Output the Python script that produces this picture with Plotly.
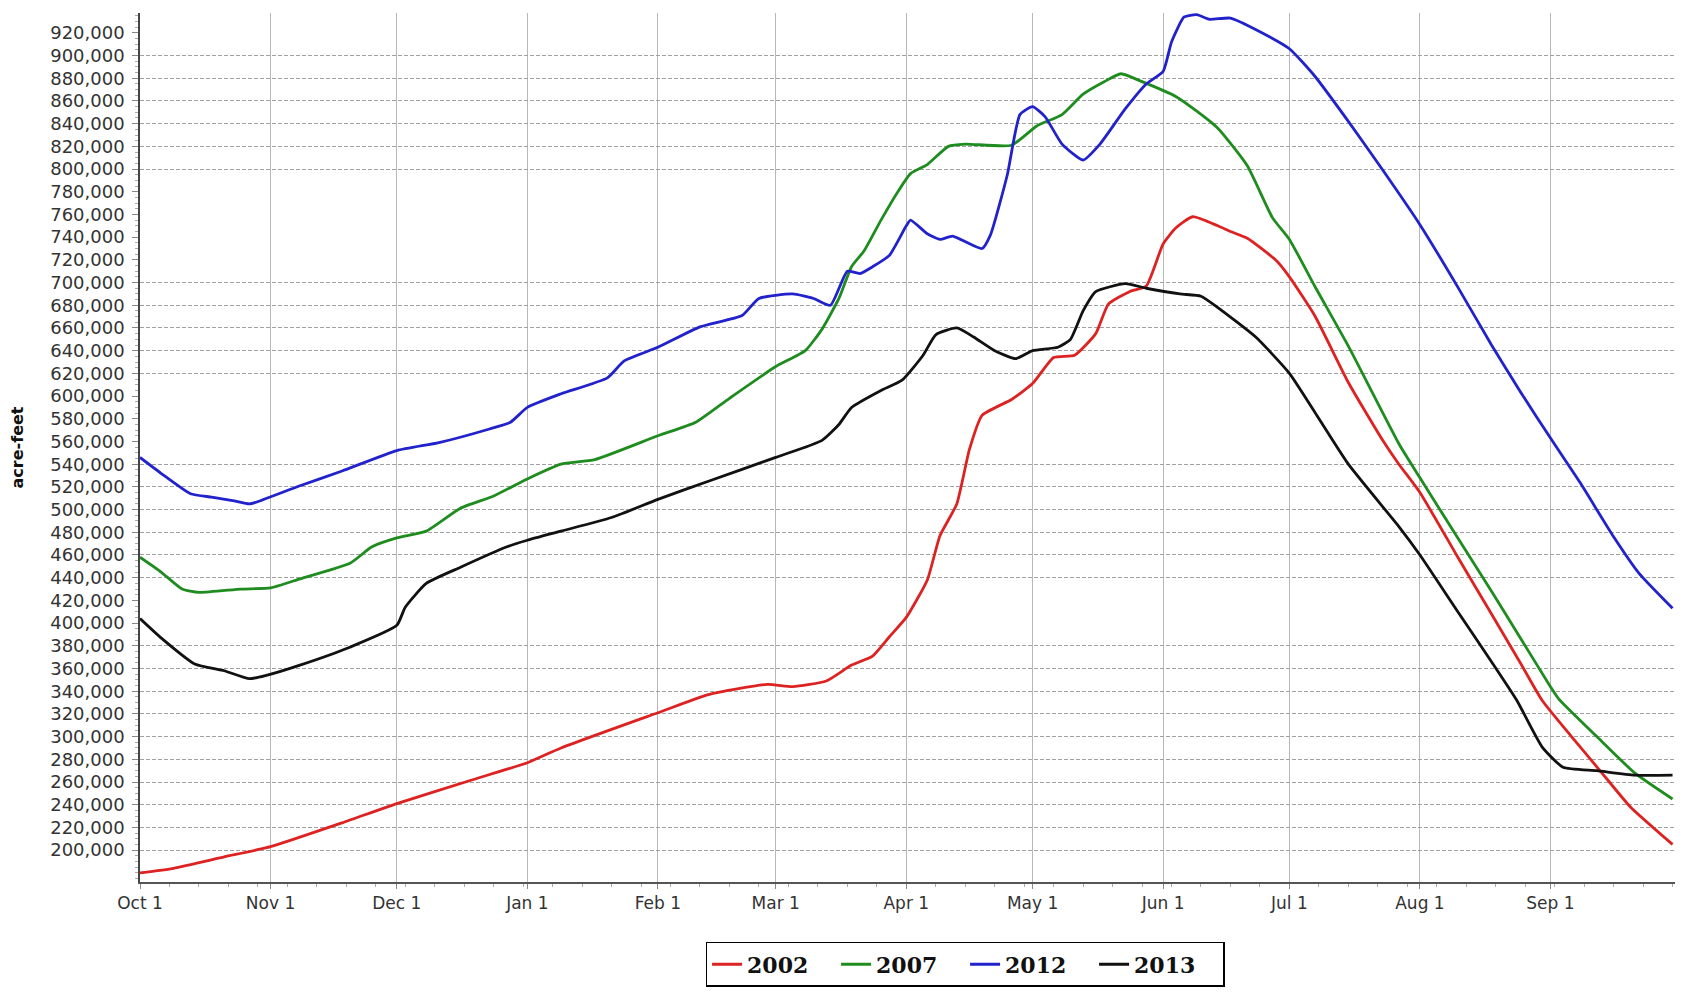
import plotly.graph_objects as go

# ---- data (water year Oct 2012 - Sep 2013 used as a generic year axis) ----
dates_2002 = ["2012-10-01","2012-10-09","2012-10-21","2012-11-01","2012-11-18","2012-12-01","2012-12-19",
              "2013-01-01","2013-01-09","2013-02-01","2013-02-13","2013-02-27","2013-03-05","2013-03-13",
              "2013-03-19","2013-03-24","2013-03-28","2013-04-01","2013-04-06","2013-04-09","2013-04-13",
              "2013-04-16","2013-04-19","2013-04-26","2013-05-01","2013-05-06","2013-05-11","2013-05-16",
              "2013-05-19","2013-05-24","2013-05-28","2013-06-01","2013-06-04","2013-06-08","2013-06-14",
              "2013-06-17","2013-06-21","2013-06-28","2013-07-01","2013-07-07","2013-07-15","2013-07-23",
              "2013-07-27","2013-08-01","2013-08-10","2013-08-18","2013-08-25","2013-08-30","2013-09-06",
              "2013-09-13","2013-09-20","2013-09-30"]
acft_2002 = [180000,184000,194000,203000,224000,241000,262000,
             277000,290000,321000,337000,346000,344000,349000,
             363000,371000,388000,405000,438000,477000,505000,
             553000,583000,597000,611000,634000,636000,655000,
             681000,692000,697000,734000,748000,758000,750000,
             745000,739000,719000,705000,671000,612000,562000,
             540000,515000,458000,408000,364000,332000,300000,
             269000,238000,205000]

dates_2007 = ["2012-10-01","2012-10-06","2012-10-11","2012-10-15","2012-10-25","2012-11-01","2012-11-08",
              "2012-11-20","2012-11-25","2012-12-01","2012-12-08","2012-12-16","2012-12-24","2013-01-01",
              "2013-01-09","2013-01-17","2013-02-01","2013-02-10","2013-02-18","2013-03-01","2013-03-08",
              "2013-03-12","2013-03-16","2013-03-19","2013-03-22","2013-03-26","2013-03-30","2013-04-02",
              "2013-04-06","2013-04-11","2013-04-15","2013-04-26","2013-05-02","2013-05-08","2013-05-13",
              "2013-05-18","2013-05-22","2013-05-27","2013-06-04","2013-06-09","2013-06-14","2013-06-21",
              "2013-06-27","2013-07-01","2013-07-07","2013-07-15","2013-07-27","2013-08-01","2013-08-10",
              "2013-08-18","2013-08-25","2013-09-01","2013-09-03","2013-09-12","2013-09-21","2013-09-30"]
acft_2007 = [458000,445000,430000,427000,430000,431000,439000,
             453000,467000,475000,481000,501000,512000,527000,
             540000,544000,565000,577000,598000,626000,640000,
             659000,686000,714000,728000,755000,780000,796000,
             804000,820000,822000,821000,838000,848000,866000,
             877000,884000,877000,864000,851000,836000,803000,
             757000,738000,697000,644000,558000,528000,475000,
             428000,386000,344000,333000,300000,268000,245000]

dates_2012 = ["2012-10-01","2012-10-06","2012-10-13","2012-10-18","2012-10-23","2012-10-27","2012-10-29",
              "2012-11-08","2012-11-18","2012-12-01","2012-12-11","2012-12-23","2012-12-28","2013-01-01",
              "2013-01-09","2013-01-20","2013-01-24","2013-02-01","2013-02-11","2013-02-21","2013-02-25",
              "2013-03-05","2013-03-10","2013-03-14","2013-03-18","2013-03-21","2013-03-24","2013-03-28",
              "2013-04-01","2013-04-02","2013-04-06","2013-04-09","2013-04-12","2013-04-19","2013-04-21",
              "2013-04-25","2013-04-28","2013-05-01","2013-05-04","2013-05-08","2013-05-13","2013-05-17",
              "2013-05-23","2013-05-28","2013-06-01","2013-06-03","2013-06-06","2013-06-09","2013-06-12",
              "2013-06-17","2013-06-24","2013-07-01","2013-07-07","2013-07-15","2013-07-23","2013-08-01",
              "2013-08-10","2013-08-18","2013-08-25","2013-09-01","2013-09-08","2013-09-16","2013-09-22",
              "2013-09-30"]
acft_2012 = [546000,532000,514000,511000,508000,505000,507000,
             521000,534000,552000,559000,571000,577000,590000,
             602000,616000,631000,643000,661000,671000,686000,
             690000,686000,680000,710000,708000,714000,724000,
             750000,755000,743000,738000,741000,730000,742000,
             795000,848000,855000,846000,822000,808000,822000,
             853000,875000,886000,912000,934000,936000,932000,
             933000,921000,906000,882000,842000,800000,751000,
             696000,645000,603000,563000,524000,476000,444000,
             413000]

dates_2013 = ["2012-10-01","2012-10-06","2012-10-14","2012-10-21","2012-10-27","2012-10-31","2012-11-08",
              "2012-11-20","2012-12-01","2012-12-03","2012-12-08","2012-12-16","2012-12-27","2013-01-01",
              "2013-01-09","2013-01-21","2013-02-01","2013-02-13","2013-03-01","2013-03-12","2013-03-16",
              "2013-03-19","2013-03-26","2013-03-31","2013-04-05","2013-04-08","2013-04-13","2013-04-17",
              "2013-04-22","2013-04-27","2013-05-01","2013-05-07","2013-05-10","2013-05-13","2013-05-16",
              "2013-05-23","2013-05-28","2013-06-05","2013-06-10","2013-06-14","2013-06-23","2013-07-01",
              "2013-07-07","2013-07-15","2013-07-27","2013-08-01","2013-08-10","2013-08-18","2013-08-24",
              "2013-08-30","2013-09-04","2013-09-12","2013-09-21","2013-09-30"]
acft_2013 = [404000,387000,364000,358000,351000,354000,363000,
             379000,398000,414000,435000,449000,467000,473000,
             481000,493000,509000,525000,546000,561000,575000,
             590000,605000,614000,636000,654000,660000,652000,
             640000,633000,640000,643000,650000,675000,692000,
             699000,695000,690000,688000,678000,652000,620000,
             586000,540000,485000,460000,410000,366000,332000,
             291000,273000,270000,266000,266000]

series_names = ["2002", "2007", "2012", "2013"]
series_colors = ["#dd2222", "#1e8c1e", "#2222cc", "#111111"]

# labelled y ticks (200,000 ... 920,000)
ytick_values = list(range(200000, 920001, 20000))

# y levels where the original chart shows horizontal dashed grid lines
grid_levels = [200000, 220000, 240000, 260000, 280000, 300000, 320000, 340000, 360000, 380000,
               440000, 460000, 480000, 500000, 520000, 540000, 620000, 640000, 660000, 680000,
               700000, 800000, 820000, 840000, 860000, 880000, 900000]

fig = go.Figure()
for name, color, d, v in zip(series_names, series_colors,
                             [dates_2002, dates_2007, dates_2012, dates_2013],
                             [acft_2002, acft_2007, acft_2012, acft_2013]):
    fig.add_trace(go.Scatter(x=d, y=v, name=name, mode="lines",
                             line=dict(color=color, width=2.8, shape="spline", smoothing=0.5)))

# invisible helper trace on a second y axis that carries the dashed grid
fig.add_trace(go.Scatter(x=[dates_2002[0]], y=[grid_levels[0]], yaxis="y2", mode="markers",
                         marker=dict(opacity=0), showlegend=False, hoverinfo="skip"))

yrange = [171900, 937500]
fig.update_layout(
    width=1679, height=984,
    margin=dict(l=132, r=12, t=5, b=110, autoexpand=False),
    paper_bgcolor="white", plot_bgcolor="white",
    font=dict(family="DejaVu Sans", size=15, color="#333333"),
    xaxis=dict(
        type="date",
        range=["2012-10-01", "2013-09-30 14:00"],
        tick0="2012-10-01", dtick="M1", tickformat="%b %-d",
        showgrid=True, gridcolor="#b8b8b8", gridwidth=1,
        showline=True, linecolor="#555555", linewidth=1.5,
        ticks="outside", ticklen=5, tickcolor="#888888",
        minor=dict(dtick=7 * 86400000, tick0="2012-10-01", ticks="outside", ticklen=3,
                   tickcolor="#aaaaaa", showgrid=False),
        tickfont=dict(family="DejaVu Sans", size=17, color="#333333"),
        ticklabelstandoff=0,
        zeroline=False, automargin=False,
    ),
    yaxis=dict(
        range=yrange, tickmode="array", tickvals=ytick_values, tickformat=",",
        showgrid=False,
        showline=True, linecolor="#444444", linewidth=1.5,
        ticks="outside", ticklen=6, tickcolor="#888888",
        minor=dict(dtick=5000, tick0=0, ticks="outside", ticklen=3, tickcolor="#aaaaaa", showgrid=False),
        tickfont=dict(family="DejaVu Sans", size=18, color="#333333"),
        ticklabelstandoff=4,
        title=dict(text="acre-feet", standoff=30,
                   font=dict(family="DejaVu Sans", size=16, color="#111111", weight="bold")),
        automargin=False, zeroline=False,
    ),
    yaxis2=dict(
        overlaying="y", range=yrange, tickmode="array", tickvals=grid_levels,
        showticklabels=False, ticks="", showgrid=True, gridcolor="#a0a0a0",
        gridwidth=1, griddash="4px,2px", showline=False, zeroline=False, layer="below traces",
    ),
    legend=dict(
        orientation="h", x=0.5375, xanchor="center", y=-0.069, yanchor="top",
        bgcolor="white", bordercolor="#000000", borderwidth=1.5,
        font=dict(family="DejaVu Serif", size=22, color="#111111", weight="bold"),
        itemwidth=30, entrywidth=84, traceorder="normal",
    ),
    showlegend=True,
)

fig.write_html("out.html")
